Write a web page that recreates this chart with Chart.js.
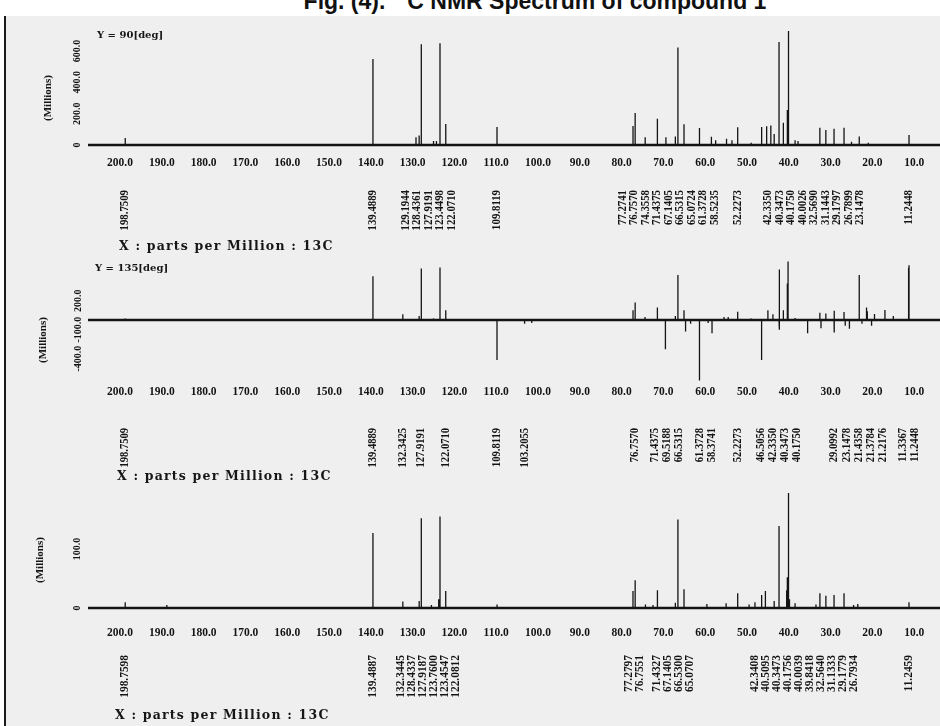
<!DOCTYPE html>
<html><head><meta charset="utf-8">
<script src="https://cdn.jsdelivr.net/npm/chart.js@4.4.1/dist/chart.umd.min.js"></script>
<style>
html,body{margin:0;padding:0;background:#fff;}
#page{position:relative;width:940px;height:726px;overflow:hidden;background:#fff;}
#scan{position:absolute;left:4px;top:16px;width:936px;height:710px;background:#efefef;border-left:2px solid #1a1a1a;}
#title{position:absolute;left:0;top:-10px;width:1070px;text-align:center;font:bold 23px "Liberation Sans",Arial,sans-serif;line-height:23px;color:#111;white-space:nowrap;}
#title sup{font-size:14px;line-height:0;position:relative;top:-10px;vertical-align:baseline;}
canvas{position:absolute;left:0;}
.t{position:absolute;font-family:"DejaVu Serif";font-weight:bold;color:#161616;white-space:nowrap;line-height:1;}
.xl{font-family:"DejaVu Serif";font-size:12.5px;letter-spacing:1.2px;}
.rot{transform:translate(-50%,-50%) rotate(-90deg);font-family:"Liberation Serif";font-size:11px;}
</style></head>
<body>
<div id="page">
  <div id="scan"></div>
  <div id="title">Fig. (4). <sup>13</sup>C NMR Spectrum of compound 1</div>
  <canvas id="c1" width="940" height="240" style="top:20px"></canvas>
  <canvas id="c2" width="940" height="235" style="top:255px"></canvas>
  <canvas id="c3" width="940" height="241" style="top:485px"></canvas>
  <div class="t" style="left:97px;top:30px;font-size:10px;">Y = 90[deg]</div>
  <div class="t" style="left:95px;top:263px;font-size:10px;">Y = 135[deg]</div>
  <div class="t xl" style="left:119px;top:240px;">X : parts per Million : 13C</div>
  <div class="t xl" style="left:117px;top:470px;">X : parts per Million : 13C</div>
  <div class="t xl" style="left:115px;top:709px;">X : parts per Million : 13C</div>
  <div class="t rot" style="left:47px;top:98px;">(Millions)</div>
  <div class="t rot" style="left:42px;top:340px;">(Millions)</div>
  <div class="t rot" style="left:39px;top:560px;">(Millions)</div>
</div>
<script>
// ---------- data ----------
const xTickStep = 10;

const panel1YTicks = [0, 200, 400, 600];
const panel1Ppm = [198.75,139.49,129.19,128.44,127.92,125.0,124.3,123.45,122.07,109.81,
  77.27,76.76,74.36,71.44,69.4,67.14,66.53,65.07,61.37,58.52,
  57.5,54.9,53.6,52.23,49.0,46.5,45.3,44.3,43.5,42.34,
  41.3,40.35,40.18,40.0,38.5,37.8,32.57,31.14,29.18,26.79,
  25.0,23.15,21.0,11.24];
const panel1Height = [45,548,50,60,643,25,25,650,134,115,
  121,204,50,168,50,55,622,132,108,52,
  30,40,30,113,15,115,120,125,70,658,
  142,223,728,458,30,25,110,95,103,110,
  20,55,15,64];
const panel1Labels = ["198.7509","139.4889","129.1944","128.4361","127.9191","123.4498","122.0710","109.8119",
  "77.2741","76.7570","74.3558","71.4375","67.1405","66.5315","65.0724","61.3728","58.5235","52.2273",
  "42.3350","40.3473","40.1750","40.0026","32.5690","31.1443","29.1797","26.7899","23.1478","11.2448"];

const panel2YTicks = [-400, -100, 200];
const panel2Ppm = [198.75,139.49,132.34,128.44,127.92,125.0,123.45,122.07,109.81,103.21,
  101.5,77.27,76.76,74.4,71.44,69.52,67.14,66.53,65.07,64.7,
  63.5,61.37,59.3,58.37,55.5,54.5,52.23,49.0,46.51,45.0,
  43.8,42.34,42.2,41.3,40.35,40.18,38.5,35.5,32.57,32.3,
  31.14,29.18,29.10,26.79,26.5,25.5,23.15,22.5,21.44,21.38,
  21.22,20.2,19.5,17.0,15.0,11.34,11.24];
const panel2Height = [15,453,58,40,533,15,543,100,-415,-40,
  -30,100,182,30,130,-302,40,464,100,-120,
  -40,-625,-30,-137,30,30,85,15,-415,100,
  60,522,-100,100,377,605,20,-137,75,-86,
  68,96,-130,82,-60,-90,464,-40,130,110,
  90,-60,62,103,40,540,567];
const panel2Labels = ["198.7509","139.4889","132.3425","127.9191","122.0710","109.8119","103.2055",
  "76.7570","71.4375","69.5188","66.5315","61.3728","58.3741","52.2273",
  "46.5056","42.3350","40.3473","40.1750","29.0992","23.1478","21.4358","21.3784","21.2176","11.3367","11.2448"];

const panel3YTicks = [0, 100];
const panel3Ppm = [198.76,188.8,139.49,132.34,128.43,127.92,125.5,123.76,123.45,122.08,
  109.8,77.28,76.76,74.3,72.5,71.43,67.14,66.53,65.07,59.6,
  55.0,52.23,49.5,48.1,46.5,45.6,43.5,42.34,40.51,40.35,
  40.18,40.0,39.84,38.5,33.5,32.56,31.13,29.18,26.79,24.5,
  23.5,11.25];
const panel3Height = [10,5,127,11,12,152,5,15,155,29,
  6,29,47,6,5,30,9,150,32,7,
  8,25,6,10,22,29,12,139,30,52,
  195,123,15,8,6,25,21,22,25,5,
  7,10];
const panel3Labels = ["198.7598","139.4887","132.3445","128.4337","127.9187","123.7600","123.4547","122.0812",
  "77.2797","76.7551","71.4327","67.1405","66.5300","65.0707",
  "42.3408","40.5095","40.3473","40.1756","40.0039","39.8418","32.5640","31.1333","29.1779","26.7934","11.2459"];

// ---------- helpers ----------
const X_MIN = 3.83, X_MAX = 207.66;
const INK = '#141414';

function sticks(ppm, h) {
  const idx = ppm.map((p, i) => i).sort((a, b) => ppm[b] - ppm[a]);
  const pts = [{x: X_MAX, y: 0}];
  idx.forEach(i => { pts.push({x: ppm[i], y: 0}, {x: ppm[i], y: h[i]}, {x: ppm[i], y: 0}); });
  pts.push({x: X_MIN, y: 0});
  return pts;
}

function spread(xs, gap) {
  let groups = xs.map(x => ({xs: [x], c: x}));
  let changed = true;
  while (changed) {
    changed = false;
    for (let i = 0; i < groups.length - 1; i++) {
      const a = groups[i], b = groups[i + 1];
      const aEnd = a.c + (a.xs.length - 1) * gap / 2;
      const bStart = b.c - (b.xs.length - 1) * gap / 2;
      if (bStart - aEnd < gap) {
        const m = a.xs.concat(b.xs);
        groups.splice(i, 2, {xs: m, c: m.reduce((s, v) => s + v, 0) / m.length});
        changed = true; break;
      }
    }
  }
  const out = [];
  groups.forEach(g => g.xs.forEach((_, k) => out.push(g.c + (k - (g.xs.length - 1) / 2) * gap)));
  return out;
}

const peakLabels = {
  id: 'peakLabels',
  afterDraw(chart, args, o) {
    const ctx = chart.ctx, xs = chart.scales.x;
    const items = o.labels.map(s => ({s, x: xs.getPixelForValue(parseFloat(s))})).sort((a, b) => a.x - b.x);
    const pos = spread(items.map(i => i.x), o.gap);
    ctx.save();
    ctx.fillStyle = INK; ctx.font = o.font; ctx.textAlign = 'right'; ctx.textBaseline = 'middle';
    items.forEach((it, i) => {
      ctx.save(); ctx.translate(pos[i], o.top); ctx.rotate(-Math.PI / 2); ctx.scale(o.squeeze, 1);
      ctx.fillText(it.s, 0, 0); ctx.restore();
    });
    ctx.restore();
  }
};

function makePanel(id, ppm, h, labels, yTicks, cfg) {
  new Chart(document.getElementById(id), {
    type: 'line',
    data: {datasets: [
      {data: [{x: X_MAX, y: 0}, {x: X_MIN, y: 0}], borderColor: INK, borderWidth: 2.4, pointRadius: 0},
      {data: sticks(ppm, h), borderColor: INK, borderWidth: 1.3, pointRadius: 0, tension: 0}
    ]},
    plugins: [peakLabels],
    options: {
      responsive: false, animation: false, events: [],
      layout: {padding: {left: 10, right: 0, top: cfg.padTop, bottom: cfg.padBottom}},
      plugins: {legend: {display: false}, tooltip: {enabled: false},
        peakLabels: {labels, gap: cfg.gap, top: cfg.labelTop, font: 'bold 12px "Liberation Serif"', squeeze: cfg.squeeze}},
      scales: {
        x: {type: 'linear', reverse: true, min: X_MIN, max: X_MAX,
          border: {display: false}, grid: {display: false, drawTicks: false},
          ticks: {stepSize: xTickStep, includeBounds: false, autoSkip: false, maxRotation: 0, minRotation: 0,
            padding: cfg.xPad, color: INK, font: {family: 'Liberation Serif', weight: 'bold', size: 11.5},
            callback: v => Number(v).toFixed(1)},
          afterFit: s => { s.height = 30; }},
        y: {type: 'linear', min: cfg.yMin, max: cfg.yMax,
          border: {display: false}, grid: {display: false, drawTicks: false},
          afterBuildTicks: s => { s.ticks = yTicks.map(v => ({value: v})); },
          ticks: {autoSkip: false, minRotation: 90, maxRotation: 90, crossAlign: 'center', padding: cfg.yPad,
            color: INK, font: {family: 'Liberation Serif', weight: 'bold', size: 10},
            callback: v => v === 0 ? '0' : Number(v).toFixed(1)},
          afterFit: s => { s.width = 78; }}
      }
    }
  });
}

makePanel('c1', panel1Ppm, panel1Height, panel1Labels, panel1YTicks,
  {yMin: -30, yMax: 760, padTop: 5.9, padBottom: 80.3, xPad: 6.5, yPad: -1, gap: 11.5, labelTop: 170, squeeze: 0.9});
makePanel('c2', panel2Ppm, panel2Height, panel2Labels, panel2YTicks,
  {yMin: -660, yMax: 640, padTop: 3.1, padBottom: 76.2, xPad: 1.5, yPad: -3, gap: 12, labelTop: 173, squeeze: 0.88});
makePanel('c3', panel3Ppm, panel3Height, panel3Labels, panel3YTicks,
  {yMin: -5, yMax: 200, padTop: 5, padBottom: 85, xPad: 15.5, yPad: -1, gap: 11, labelTop: 170, squeeze: 0.95});
</script>
</body></html>
